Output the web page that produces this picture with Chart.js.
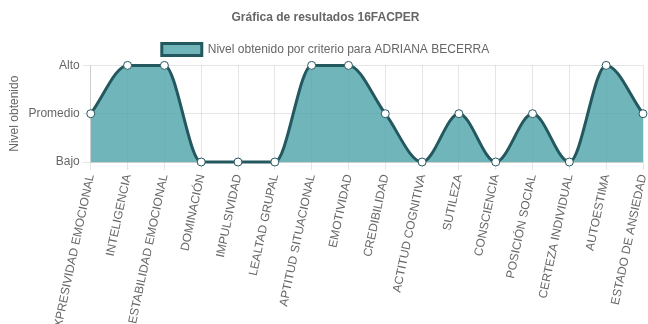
<!DOCTYPE html>
<html>
<head>
<meta charset="utf-8">
<script src="https://cdn.jsdelivr.net/npm/chart.js@4/dist/chart.umd.min.js"></script>
<style>
  html, body { margin: 0; padding: 0; background: #fff; }
  #wrap { width: 648px; height: 324px; }
</style>
</head>
<body>
<div id="wrap"><canvas id="chart"></canvas></div>
<script>
const criterios = [
  "EXPRESIVIDAD EMOCIONAL", "INTELIGENCIA", "ESTABILIDAD EMOCIONAL", "DOMINACIÓN",
  "IMPULSIVIDAD", "LEALTAD GRUPAL", "APTITUD SITUACIONAL", "EMOTIVIDAD",
  "CREDIBILIDAD", "ACTITUD COGNITIVA", "SUTILEZA", "CONSCIENCIA",
  "POSICIÓN SOCIAL", "CERTEZA INDIVIDUAL", "AUTOESTIMA", "ESTADO DE ANSIEDAD"
];
// 1 = Bajo, 2 = Promedio, 3 = Alto
const niveles = [2, 3, 3, 1, 1, 1, 3, 3, 2, 1, 2, 1, 2, 1, 3, 2];
const nivelLabels = { 1: "Bajo", 2: "Promedio", 3: "Alto" };

const cgris = "#666666";
const cborde = "#24585f";
const crelleno = "rgba(72, 160, 166, 0.78)";

Chart.defaults.color = cgris;
Chart.defaults.font.family = "'Liberation Sans', Arial, sans-serif";
Chart.defaults.font.size = 12;

new Chart(document.getElementById("chart"), {
  type: "line",
  data: {
    labels: criterios,
    datasets: [{
      label: "Nivel obtenido por criterio para ADRIANA BECERRA",
      data: niveles,
      borderColor: cborde,
      backgroundColor: crelleno,
      borderWidth: 3,
      fill: true,
      clip: false,
      cubicInterpolationMode: "monotone",
      pointRadius: 4,
      pointBackgroundColor: "#ffffff",
      pointBorderColor: cborde,
      pointBorderWidth: 1
    }]
  },
  options: {
    responsive: true,
    maintainAspectRatio: false,
    animation: false,
    layout: { padding: { left: 3, right: 0, top: 0, bottom: 0 } },
    plugins: {
      title: {
        display: true,
        text: "Gráfica de resultados 16FACPER",
        color: cgris,
        font: { size: 12, weight: "bold" },
        padding: { top: 10, bottom: 7 }
      },
      legend: {
        display: true,
        position: "top",
        labels: { boxWidth: 40, boxHeight: 12, padding: 12, color: cgris }
      },
      tooltip: { enabled: false }
    },
    scales: {
      x: {
        ticks: { minRotation: 78, maxRotation: 78, autoSkip: false, color: cgris },
        grid: { color: "rgba(0,0,0,0.1)", tickLength: 8 },
        afterFit: (scale) => {
          scale.height = 162;
          scale.paddingRight = 5;
        }
      },
      y: {
        min: 1,
        max: 3,
        ticks: {
          stepSize: 1,
          color: cgris,
          callback: (v) => nivelLabels[v] || ""
        },
        grid: { color: "rgba(0,0,0,0.1)", tickLength: 8 },
        title: { display: true, text: "Nivel obtenido", color: cgris }
      }
    }
  }
});
</script>
</body>
</html>
